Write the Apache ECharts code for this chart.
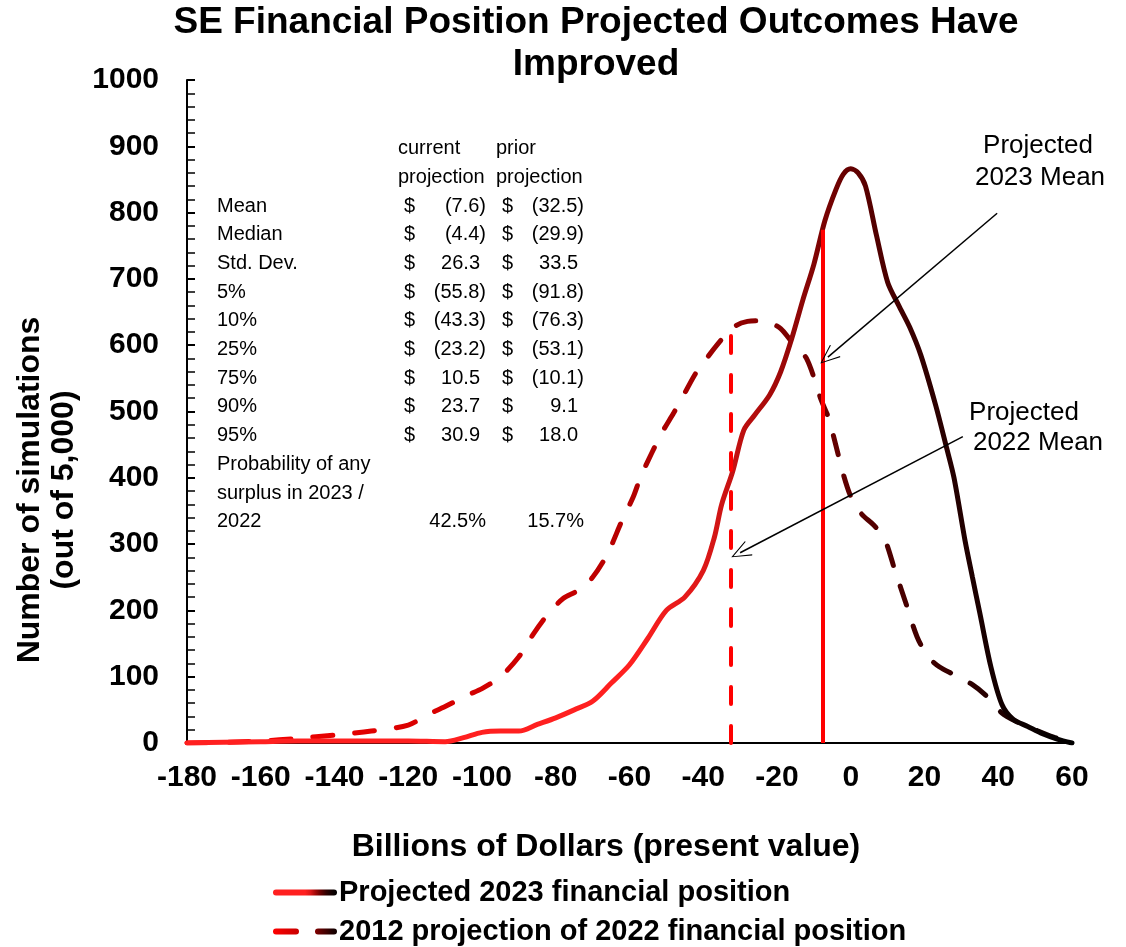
<!DOCTYPE html>
<html>
<head>
<meta charset="utf-8">
<title>SE Financial Position Projected Outcomes</title>
<script src="https://cdn.jsdelivr.net/npm/echarts@6/dist/echarts.min.js"></script>
<style>
  html, body { margin: 0; padding: 0; background: #fff; }
  #chart { width: 1126px; height: 947px; }
</style>
</head>
<body>
<div id="chart"></div>
<script>
// distribution of simulated outcomes, billions of dollars (x) vs number of simulations (y)
const current2023 = [
  [-180, 0], [-170, 1], [-160, 2], [-150, 3], [-140, 3], [-130, 3], [-120, 3], [-110, 2],
  [-105, 8], [-100, 16], [-95, 18], [-90, 18], [-85, 28], [-80, 38], [-75, 50], [-70, 63],
  [-65, 90], [-60, 118], [-55, 158], [-50, 200], [-45, 220], [-40, 260], [-37, 310],
  [-35, 360], [-32, 410], [-29, 472], [-26, 495], [-22, 525], [-19, 560], [-16, 610],
  [-13, 668], [-10, 722], [-7, 788], [-4, 835], [-2, 858], [0, 866], [2, 860], [4, 840],
  [7, 765], [10, 695], [13, 660], [16, 627], [19, 585], [23, 510], [26, 445], [28, 400],
  [31, 305], [33, 250], [35, 196], [38, 115], [41, 58], [44, 36], [48, 25], [52, 14],
  [56, 6], [60, 0]
];
const prior2022 = [
  [-180, 0], [-170, 1], [-160, 3], [-150, 7], [-140, 12], [-130, 18], [-120, 27], [-115, 42],
  [-110, 55], [-104, 72], [-100, 82], [-95, 100], [-90, 130], [-86, 165], [-82, 195],
  [-78, 218], [-74, 230], [-70, 250], [-66, 285], [-62, 336], [-59, 371], [-57, 401],
  [-54, 437], [-51, 470], [-48, 498], [-45, 528], [-42, 558], [-38, 588], [-34, 615],
  [-31, 630], [-28, 636], [-25, 637], [-22, 634], [-19, 625], [-16, 605], [-12, 580],
  [-8, 517], [-6, 490], [-4, 448], [-2, 405], [0, 372], [3, 345], [6, 330], [9, 310],
  [12, 260], [15, 210], [18, 160], [21, 130], [24, 115], [28, 103], [33, 88], [37, 70],
  [41, 45], [45, 32], [50, 20], [55, 9], [60, 0]
];

const seriesNames = ['Projected 2023 financial position', '2012 projection of 2022 financial position'];

// statistics table
const statLabels = ['Mean', 'Median', 'Std. Dev.', '5%', '10%', '25%', '75%', '90%', '95%'];
const currentStats = [-7.6, -4.4, 26.3, -55.8, -43.3, -23.2, 10.5, 23.7, 30.9];
const priorStats = [-32.5, -29.9, 33.5, -91.8, -76.3, -53.1, -10.1, 9.1, 18.0];
const surplusProb = ['42.5%', '15.7%'];

// height of the mean markers (where they meet their curve)
const meanTops = [774, 620];

// annotation arrows, in data coordinates [from, to]
const arrow2023 = [[39.7, 799], [-6.2, 582]];
const arrow2022 = [[30.4, 462], [-30.0, 287]];

const FONT = '"Liberation Sans", Arial, sans-serif';

const chart = echarts.init(document.getElementById('chart'));

const solidGrad = new echarts.graphic.LinearGradient(0, 0, 1, 0, [
  { offset: 0, color: '#ff2020' },
  { offset: 0.5, color: '#ff2020' },
  { offset: 0.583, color: '#dd1818' },
  { offset: 0.667, color: '#a00808' },
  { offset: 0.75, color: '#620000' },
  { offset: 0.833, color: '#300000' },
  { offset: 0.917, color: '#120000' },
  { offset: 1, color: '#000000' }
]);
const dashGrad = new echarts.graphic.LinearGradient(0, 0, 1, 0, [
  { offset: 0, color: '#ff0000' },
  { offset: 0.208, color: '#e00000' },
  { offset: 0.417, color: '#c80000' },
  { offset: 0.583, color: '#a00000' },
  { offset: 0.667, color: '#800000' },
  { offset: 0.75, color: '#5c0000' },
  { offset: 0.833, color: '#400000' },
  { offset: 0.917, color: '#200000' },
  { offset: 1, color: '#100000' }
]);

const openArrow = 'path://M0,20 L10,0 L20,20 L18.8,20.6 L10,2.6 L1.2,20.6 Z';

// table text elements
const fmt = v => v < 0 ? '(' + Math.abs(v).toFixed(1) + ')' : v.toFixed(1);
const tableFont = '20px ' + FONT;
const rowY = i => 206 + i * 28.7;
const txt = (text, x, y, align, font) => ({
  type: 'text', x: x, y: y,
  style: { text: text, font: font || tableFont, fill: '#000', align: align, textAlign: align,
           verticalAlign: 'middle', textVerticalAlign: 'middle' }
});

const table = [
  txt('current', 398, 148, 'left'),
  txt('projection', 398, 177, 'left'),
  txt('prior', 496, 148, 'left'),
  txt('projection', 496, 177, 'left')
];
statLabels.forEach((lab, i) => {
  const y = rowY(i);
  table.push(txt(lab, 217, y, 'left'));
  table.push(txt('$', 404, y, 'left'));
  table.push(txt('$', 502, y, 'left'));
  table.push(txt(fmt(currentStats[i]), currentStats[i] < 0 ? 486 : 480, y, 'right'));
  table.push(txt(fmt(priorStats[i]), priorStats[i] < 0 ? 584 : 578, y, 'right'));
});
table.push(txt('Probability of any', 217, rowY(9), 'left'));
table.push(txt('surplus in 2023 /', 217, rowY(10), 'left'));
table.push(txt('2022', 217, rowY(11), 'left'));
table.push(txt(surplusProb[0], 486, rowY(11), 'right'));
table.push(txt(surplusProb[1], 584, rowY(11), 'right'));

const noteFont = '26px ' + FONT;
const titleFont = 'bold 37px ' + FONT;
const axisNameFont = 'bold 32px ' + FONT;

const graphics = table.concat([
  txt('SE Financial Position Projected Outcomes Have', 596, 23, 'center', titleFont),
  txt('Improved', 596, 65, 'center', titleFont),
  txt('Projected', 1038, 146, 'center', noteFont),
  txt('2023 Mean', 1040, 178, 'center', noteFont),
  txt('Projected', 1024, 413, 'center', noteFont),
  txt('2022 Mean', 1038, 443, 'center', noteFont),
  txt('Billions of Dollars (present value)', 606, 847, 'center', axisNameFont),
  Object.assign(txt('Number of simulations', 30, 490, 'center', axisNameFont), { rotation: Math.PI / 2 }),
  Object.assign(txt('(out of 5,000)', 64, 490, 'center', axisNameFont), { rotation: Math.PI / 2 })
]);

const arrowStyle = { color: '#000', width: 1.5, type: 'solid' };
const arrowLine = pts => [
  { coord: pts[0], symbol: 'none', lineStyle: arrowStyle },
  { coord: pts[1], symbol: openArrow, symbolSize: [16, 20] }
];

// one legend per row, stacked like the original
const legendRow = (name, top) => ({
  orient: 'vertical',
  left: 268,
  top: top,
  itemWidth: 58,
  itemHeight: 12,
  data: [name],
  itemStyle: { opacity: 0 },
  lineStyle: { width: 6 },
  textStyle: { fontFamily: FONT, fontWeight: 'bold', fontSize: 29, color: '#000' }
});

const option = {
  animation: false,
  backgroundColor: '#fff',
  grid: { left: 187, right: 54, top: 80, bottom: 204, containLabel: false },
  legend: [legendRow(seriesNames[0], 873), legendRow(seriesNames[1], 912)],
  xAxis: {
    type: 'value',
    min: -180, max: 60, interval: 20,
    axisLine: { onZero: false, lineStyle: { color: '#000', width: 2 } },
    axisTick: { show: false },
    splitLine: { show: false },
    axisLabel: { color: '#000', fontFamily: FONT, fontWeight: 'bold', fontSize: 30, margin: 20 }
  },
  yAxis: {
    type: 'value',
    min: 0, max: 1000, interval: 100,
    axisLine: { show: true, onZero: false, lineStyle: { color: '#000', width: 2 } },
    axisTick: { show: true, inside: true, length: 8, lineStyle: { color: '#000', width: 2 } },
    minorTick: { show: true, splitNumber: 5, length: 8, lineStyle: { color: '#000', width: 1.5 } },
    splitLine: { show: false },
    axisLabel: { color: '#000', fontFamily: FONT, fontWeight: 'bold', fontSize: 30, margin: 28,
                 formatter: v => String(v) }
  },
  graphic: graphics,
  series: [
    {
      name: seriesNames[1],
      type: 'line',
      data: prior2022,
      smooth: 0.3,
      symbol: 'none',
      z: 2,
      lineStyle: { color: dashGrad, width: 5, type: [20, 22], cap: 'round' },
      itemStyle: { color: dashGrad }
    },
    {
      name: seriesNames[0],
      type: 'line',
      data: current2023,
      smooth: 0.3,
      symbol: 'none',
      z: 3,
      lineStyle: { color: solidGrad, width: 5, cap: 'round' },
      itemStyle: { color: solidGrad },
      markLine: {
        silent: true,
        animation: false,
        label: { show: false },
        emphasis: { disabled: true },
        data: [
          [
            { coord: [currentStats[0], 0], symbol: 'none', lineStyle: { color: '#ff0000', width: 4, type: 'solid' } },
            { coord: [currentStats[0], meanTops[0]], symbol: 'none' }
          ],
          [
            { coord: [priorStats[0], 0], symbol: 'none', lineStyle: { color: '#ff0000', width: 4, type: [17, 22], cap: 'round' } },
            { coord: [priorStats[0], meanTops[1]], symbol: 'none' }
          ],
          arrowLine(arrow2023),
          arrowLine(arrow2022)
        ]
      }
    }
  ]
};

chart.setOption(option);
</script>
</body>
</html>
